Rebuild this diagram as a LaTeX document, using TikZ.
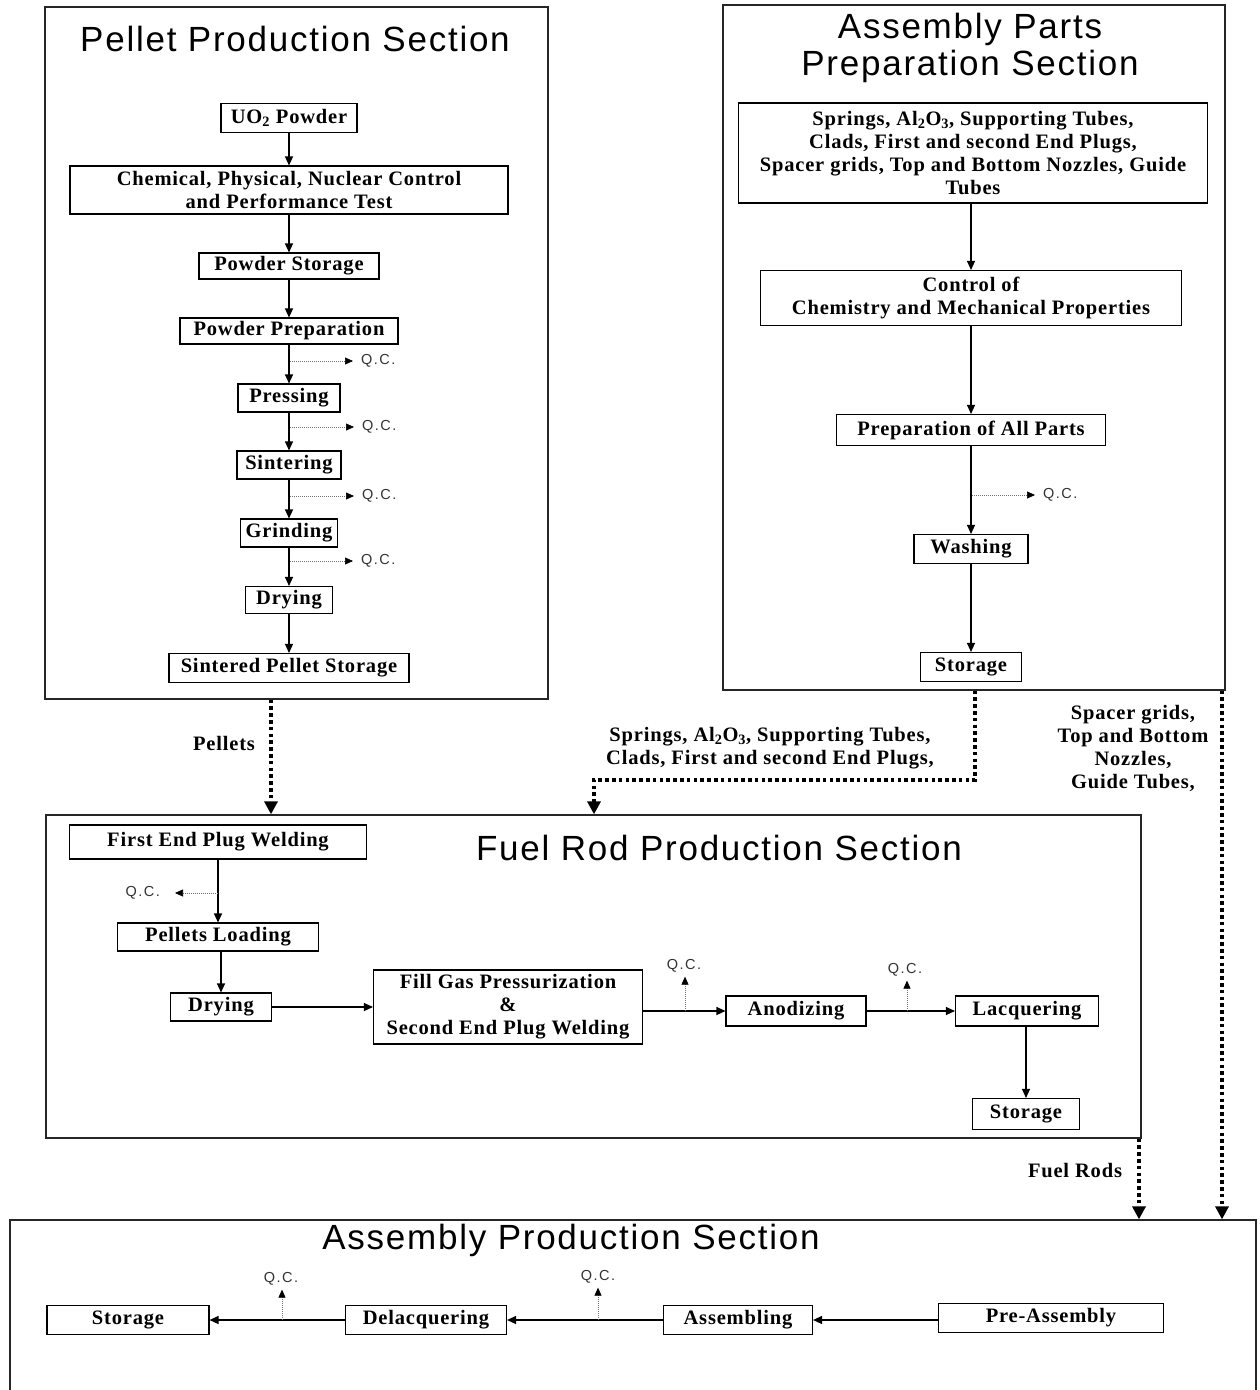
\documentclass[tikz,border=0pt]{standalone}
\usepackage{fontspec}
\setmainfont{Liberation Serif}
\newfontfamily\boxfont[LetterSpace=4]{Liberation Serif}
\newfontfamily\headfont[LetterSpace=5]{Liberation Sans}
\newfontfamily\qcfont[LetterSpace=10]{Liberation Sans}
\usetikzlibrary{arrows.meta}

\tikzset{
  frame/.style={draw=black!85, line width=1.3pt, inner sep=0pt},
  heading/.style={font=\headfont\fontsize{35}{37}\selectfont, align=center, inner sep=0pt},
  proc/.style={draw, line width=1.1pt, inner sep=0pt, align=center,
    font=\boxfont\bfseries\fontsize{20.5}{23}\selectfont},
  note/.style={inner sep=0pt, align=center,
    font=\boxfont\bfseries\fontsize{20.5}{23}\selectfont},
  qclabel/.style={inner sep=0pt, text=black!80, font=\qcfont\fontsize{14.5}{16}\selectfont},
  flow/.style={line width=1.1pt, -{Triangle[length=9pt,width=8pt]}},
  qcflow/.style={line width=0.7pt, draw=black!55, dash pattern=on 1pt off 1pt,
    -{Triangle[length=8pt,width=7pt,color=black]}},
  bigflow/.style={line width=3.6pt, dash pattern=on 3.6pt off 3.2pt,
    -{Triangle[length=13pt,width=13pt]}},
}

\begin{document}
\begin{tikzpicture}[x=1pt, y=-1pt]
\useasboundingbox[fill=white] (0,0) rectangle (1260,1390);

% ---------- section frames ----------
\node[frame, minimum width=503pt, minimum height=692pt] (pellsec) at (296.5,353) {};
\node[frame, minimum width=502pt, minimum height=685pt] (partsec) at (974,347.5) {};
\node[frame, minimum width=1095pt, minimum height=323pt] (fuelsec) at (593.5,976.5) {};
\node[frame, minimum width=1246pt, minimum height=180pt] (asmsec) at (633,1310) {};

% ---------- section headings ----------
\node[heading] (h1) at (295,39) {Pellet Production Section};
\node[heading] (h2) at (970,48) {Assembly Parts\\Preparation Section};
\node[heading] (h3) at (719,848) {Fuel Rod Production Section};
\node[heading] (h4) at (571,1240) {Assembly Production Section};

% ---------- pellet production ----------
\node[proc, minimum width=136pt, minimum height=29pt] (uo2) at (289,118) {UO\textsubscript{2} Powder};
\node[proc, minimum width=438pt, minimum height=48pt] (chem) at (289,190) {Chemical, Physical, Nuclear Control\\and Performance Test};
\node[proc, minimum width=180pt, minimum height=26pt] (pstor) at (289,266) {Powder Storage};
\node[proc, minimum width=218pt, minimum height=26pt] (pprep) at (289,331) {Powder Preparation};
\node[proc, minimum width=102pt, minimum height=28pt] (press) at (289,398) {Pressing};
\node[proc, minimum width=104pt, minimum height=28pt] (sinter) at (289,465) {Sintering};
\node[proc, minimum width=97pt, minimum height=28pt] (grind) at (289,533) {Grinding};
\node[proc, minimum width=87pt, minimum height=27pt] (pdry) at (289,600) {Drying};
\node[proc, minimum width=240pt, minimum height=29pt] (sps) at (289,668) {Sintered Pellet Storage};

\draw[flow] (uo2) -- (chem);
\draw[flow] (chem) -- (pstor);
\draw[flow] (pstor) -- (pprep);
\draw[flow] (pprep) -- (press);
\draw[flow] (press) -- (sinter);
\draw[flow] (sinter) -- (grind);
\draw[flow] (grind) -- (pdry);
\draw[flow] (pdry) -- (sps);

\coordinate (pq1) at (290,361);
\coordinate (pq2) at (290,427);
\coordinate (pq3) at (290,496);
\coordinate (pq4) at (290,561);
\node[qclabel, anchor=west] (pqc1) at (361,361) {Q.C.};
\node[qclabel, anchor=west] (pqc2) at (362,427) {Q.C.};
\node[qclabel, anchor=west] (pqc3) at (362,496) {Q.C.};
\node[qclabel, anchor=west] (pqc4) at (361,561) {Q.C.};
\draw[qcflow, shorten >=8pt] (pq1) -- (pqc1.west);
\draw[qcflow, shorten >=8pt] (pq2) -- (pqc2.west);
\draw[qcflow, shorten >=8pt] (pq3) -- (pqc3.west);
\draw[qcflow, shorten >=8pt] (pq4) -- (pqc4.west);

% ---------- assembly parts preparation ----------
\node[proc, minimum width=469pt, minimum height=100pt] (parts) at (973,153)
  {Springs, Al\textsubscript{2}O\textsubscript{3}, Supporting Tubes,\\Clads, First and second End Plugs,\\Spacer grids, Top and Bottom Nozzles, Guide\\Tubes};
\node[proc, minimum width=421pt, minimum height=55pt] (ctrl) at (971,298) {Control of\\Chemistry and Mechanical Properties};
\node[proc, minimum width=269pt, minimum height=31pt] (allp) at (971,430) {Preparation of All Parts};
\node[proc, minimum width=114pt, minimum height=29pt] (wash) at (971,549) {Washing};
\node[proc, minimum width=101pt, minimum height=29pt] (astor1) at (971,667) {Storage};

\draw[flow] (parts.south -| ctrl) -- (ctrl.north);
\draw[flow] (ctrl) -- (allp);
\draw[flow] (allp) -- (wash);
\draw[flow] (wash) -- (astor1);

\coordinate (aq1) at (972,495);
\node[qclabel, anchor=west] (aqc1) at (1043,495) {Q.C.};
\draw[qcflow, shorten >=8pt] (aq1) -- (aqc1.west);

% ---------- transfers between sections ----------
\coordinate (pelx) at (271,0);
\coordinate (partx) at (975,0);
\coordinate (bend) at (594,780);
\coordinate (gridx) at (1222,0);
\coordinate (rodx) at (1139,0);

\draw[bigflow] (pellsec.south -| pelx) -- (fuelsec.north -| pelx);
\draw[bigflow] (partsec.south -| partx) |- (bend) -- (fuelsec.north -| bend);
\draw[bigflow] (partsec.south -| gridx) -- (asmsec.north -| gridx);
\draw[bigflow] (fuelsec.south -| rodx) -- (asmsec.north -| rodx);

\node[note] (lpel) at (224,743) {Pellets};
\node[note] (lspr) at (770,748) {Springs, Al\textsubscript{2}O\textsubscript{3}, Supporting Tubes,\\Clads, First and second End Plugs,};
\node[note] (lgrid) at (1133,748) {Spacer grids,\\Top and Bottom\\Nozzles,\\Guide Tubes,};
\node[note] (lrod) at (1075,1170) {Fuel Rods};

% ---------- fuel rod production ----------
\node[proc, minimum width=297pt, minimum height=34pt] (fepw) at (218,842) {First End Plug Welding};
\node[proc, minimum width=201pt, minimum height=28pt] (pload) at (218,937) {Pellets Loading};
\node[proc, minimum width=101pt, minimum height=28pt] (fdry) at (221,1007) {Drying};
\node[proc, minimum width=269pt, minimum height=74pt] (fill) at (508,1007) {Fill Gas Pressurization\\\&\\Second End Plug Welding};
\node[proc, minimum width=140pt, minimum height=30pt] (anod) at (796,1011) {Anodizing};
\node[proc, minimum width=143pt, minimum height=30pt] (lacq) at (1027,1011) {Lacquering};
\node[proc, minimum width=107pt, minimum height=31pt] (fstor) at (1026,1114) {Storage};

\draw[flow] (fepw) -- (pload);
\draw[flow] (pload.south -| fdry) -- (fdry.north);
\draw[flow] (fdry) -- (fill);
\draw[flow] (fill.east |- anod) -- (anod.west);
\draw[flow] (anod) -- (lacq);
\draw[flow] (lacq.south -| fstor) -- (fstor.north);

\coordinate (fq1) at (218,893);
\coordinate (fq2) at (685,1011);
\coordinate (fq3) at (907,1011);
\node[qclabel, anchor=east] (fqc1) at (160,893) {Q.C.};
\node[qclabel] (fqc2) at (684,966) {Q.C.};
\node[qclabel] (fqc3) at (905,970) {Q.C.};
\draw[qcflow, shorten >=15pt] (fq1) -- (fqc1.east);
\draw[qcflow, shorten >=4pt] (fq2) -- (fq2 |- fqc2.south);
\draw[qcflow, shorten >=4pt] (fq3) -- (fq3 |- fqc3.south);

% ---------- assembly production ----------
\node[proc, minimum width=162pt, minimum height=29pt] (bstor) at (128,1320) {Storage};
\node[proc, minimum width=161pt, minimum height=29pt] (delac) at (426,1320) {Delacquering};
\node[proc, minimum width=149pt, minimum height=29pt] (asmb) at (738,1320) {Assembling};
\node[proc, minimum width=225pt, minimum height=29pt] (pre) at (1051,1318) {Pre-Assembly};

\draw[flow] (pre.west |- asmb) -- (asmb.east);
\draw[flow] (asmb) -- (delac);
\draw[flow] (delac) -- (bstor);

\coordinate (bq1) at (282,1320);
\coordinate (bq2) at (598,1320);
\node[qclabel] (bqc1) at (281,1279) {Q.C.};
\node[qclabel] (bqc2) at (598,1277) {Q.C.};
\draw[qcflow, shorten >=4pt] (bq1) -- (bq1 |- bqc1.south);
\draw[qcflow, shorten >=4pt] (bq2) -- (bq2 |- bqc2.south);
\end{tikzpicture}
\end{document}
